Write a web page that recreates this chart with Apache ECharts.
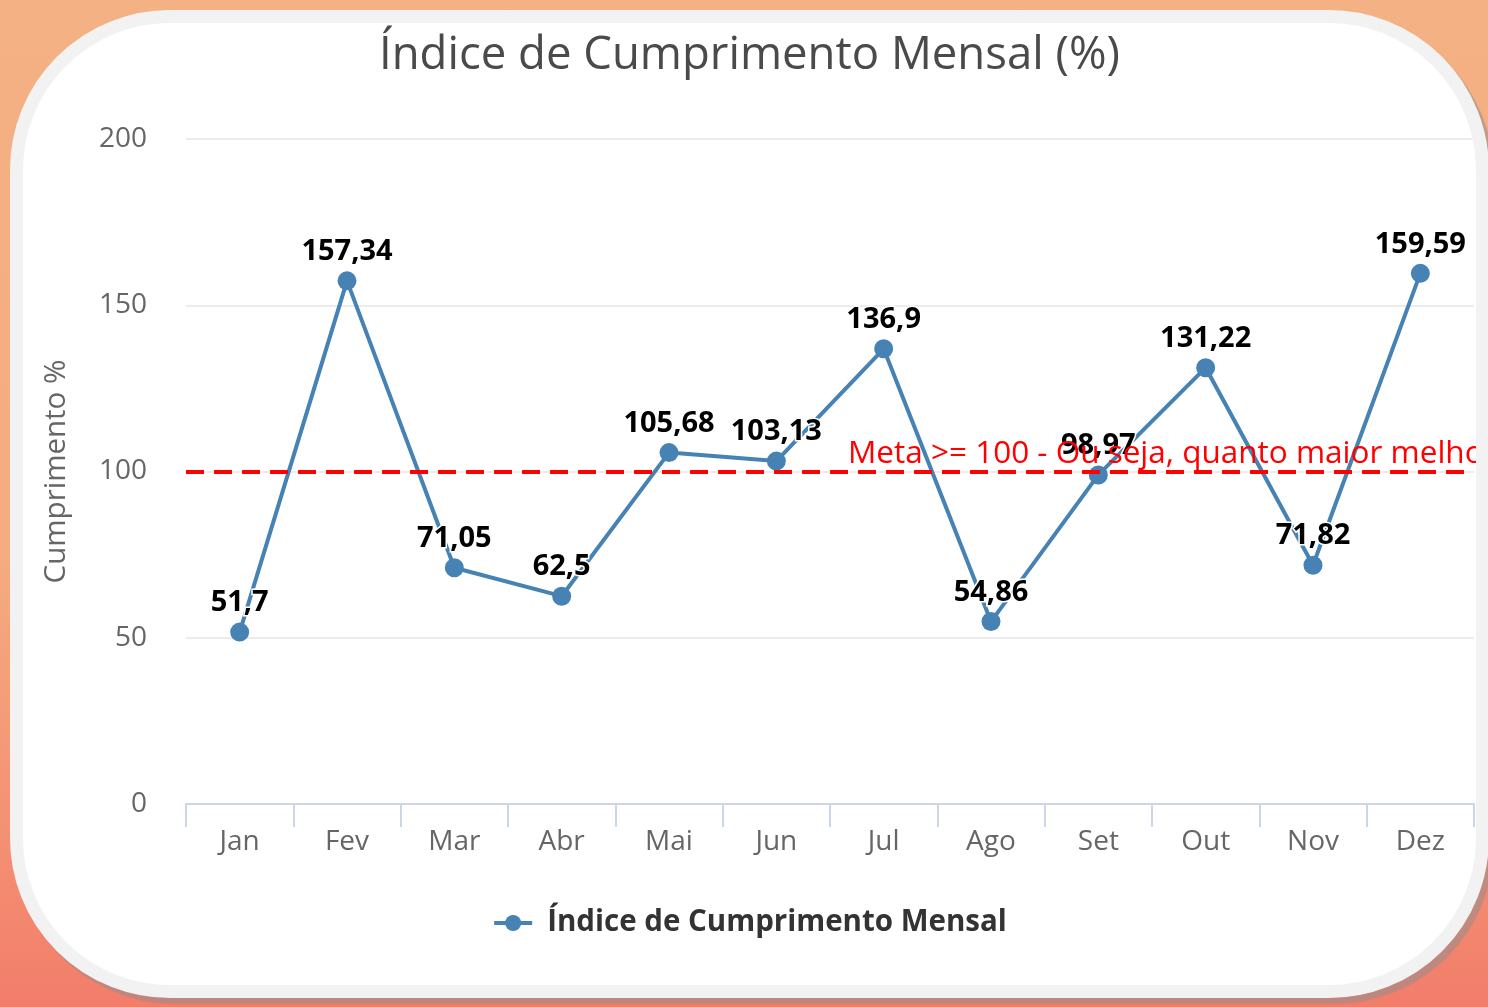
<!DOCTYPE html>
<html>
<head>
<meta charset="utf-8">
<script src="https://cdn.jsdelivr.net/npm/echarts@6/dist/echarts.min.js"></script>
<style>
  html, body { margin: 0; padding: 0; width: 1488px; height: 1007px; overflow: hidden; }
  body { background: linear-gradient(to bottom, #f4b183 0%, #f4ac80 55%, #f48e72 85%, #f27d6a 100%); position: relative; }
  #card {
    position: absolute; left: 10px; top: 10px;
    width: 1453px; height: 962px;
    border: 13px solid #f2f2f2; border-radius: 160px;
    background: #ffffff; overflow: hidden;
    box-shadow: 5px 6px 1px rgba(150, 140, 140, 0.55);
  }
  #chart { width: 1453px; height: 962px; }
</style>
</head>
<body>
<div id="card"><div id="chart"></div></div>
<script>
const categories = ['Jan', 'Fev', 'Mar', 'Abr', 'Mai', 'Jun', 'Jul', 'Ago', 'Set', 'Out', 'Nov', 'Dez'];
const values = [51.7, 157.34, 71.05, 62.5, 105.68, 103.13, 136.9, 54.86, 98.97, 131.22, 71.82, 159.59];
const goalValue = 100;
const goalLabel = 'Meta >= 100 - Ou seja, quanto maior melhor';
const titleText = 'Índice de Cumprimento Mensal (%)';
const seriesName = 'Índice de Cumprimento Mensal';
const yAxisName = 'Cumprimento %';

const FONT = '"Open Sans", "Noto Sans", sans-serif';
const chart = echarts.init(document.getElementById('chart'), null, { renderer: 'canvas' });

chart.setOption({
  animation: false,
  textStyle: { fontFamily: FONT },
  title: {
    text: titleText,
    left: 'center',
    top: 5,
    textStyle: { fontFamily: FONT, fontSize: 45.5, fontWeight: 'normal', color: '#4a4a4a' }
  },
  legend: {
    data: [seriesName],
    bottom: 42,
    left: 'center',
    itemWidth: 38,
    itemHeight: 20,
    lineStyle: { width: 4 },
    textStyle: { fontFamily: FONT, fontSize: 29.5, fontWeight: 'bold', color: '#333333', padding: [0, 0, 0, 10] }
  },
  grid: { left: 163, top: 116, width: 1288, height: 665, containLabel: false },
  xAxis: {
    type: 'category',
    data: categories,
    boundaryGap: true,
    axisLine: { lineStyle: { color: '#ccd6eb', width: 2 } },
    axisTick: { show: true, length: 23, lineStyle: { color: '#ccd6eb', width: 2 } },
    axisLabel: { fontFamily: FONT, fontSize: 28, color: '#666666', margin: 24 },
    splitLine: { show: false }
  },
  yAxis: {
    type: 'value',
    min: 0,
    max: 200,
    interval: 50,
    name: yAxisName,
    nameLocation: 'middle',
    nameRotate: 90,
    nameGap: 114,
    nameTextStyle: { fontFamily: FONT, fontSize: 29.5, color: '#666666' },
    axisLine: { show: false },
    axisTick: { show: false },
    axisLabel: { fontFamily: FONT, fontSize: 28, color: '#666666', margin: 39 },
    splitLine: { lineStyle: { color: '#e6e6e6', width: 1.5 } }
  },
  series: [
    {
      name: 'meta',
      type: 'line',
      data: [],
      z: 1,
      silent: true,
      markLine: {
        silent: true,
        symbol: ['none', 'none'],
        lineStyle: { color: '#ff0000', width: 4, type: [18, 10] },
        label: {
          show: true,
          position: 'insideStartTop',
          distance: [662, 1],
          formatter: goalLabel,
          fontFamily: FONT,
          fontSize: 31.5,
          color: '#ff0000'
        },
        data: [{ yAxis: goalValue }]
      }
    },
    {
      name: seriesName,
      type: 'line',
      data: values,
      z: 3,
      color: '#4682b4',
      lineStyle: { color: '#4682b4', width: 4 },
      itemStyle: { color: '#4682b4' },
      symbol: 'circle',
      symbolSize: 19,
      label: {
        show: true,
        position: 'top',
        distance: 5,
        formatter: p => String(p.value).replace('.', ','),
        fontFamily: FONT,
        fontSize: 29,
        fontWeight: 'bold',
        color: '#000000',
        textBorderColor: '#ffffff',
        textBorderWidth: 3
      }
    }
  ]
});
</script>
</body>
</html>
